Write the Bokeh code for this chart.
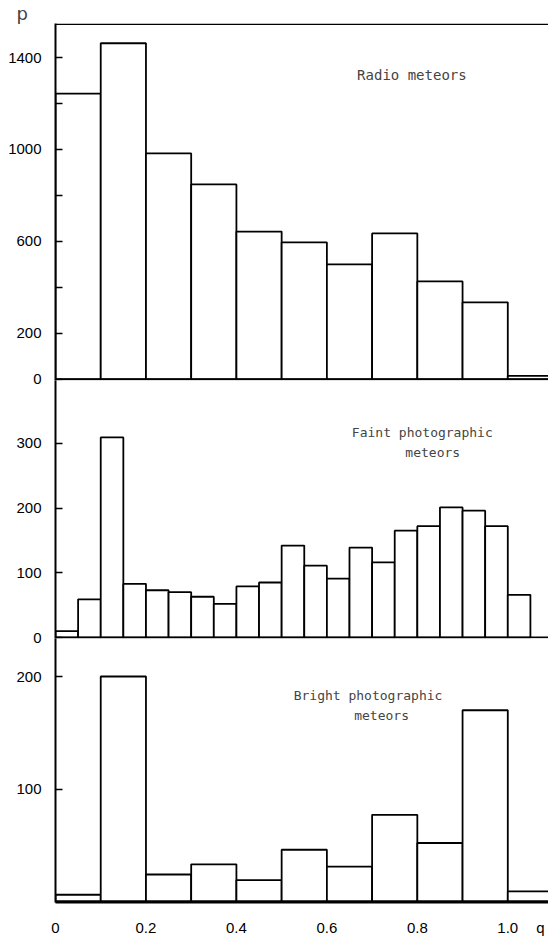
from bokeh.plotting import figure
from bokeh.layouts import column
from bokeh.models import Span, Label, FixedTicker
from bokeh.embed import file_html
from bokeh.resources import INLINE

# ---------------- data ----------------
radio_q = [0.0, 0.1, 0.2, 0.3, 0.4, 0.5, 0.6, 0.7, 0.8, 0.9, 1.0]
radio_n = [1243, 1462, 983, 848, 643, 596, 500, 635, 426, 335, 15]

faint_q = [0.00, 0.05, 0.10, 0.15, 0.20, 0.25, 0.30, 0.35, 0.40, 0.45, 0.50,
           0.55, 0.60, 0.65, 0.70, 0.75, 0.80, 0.85, 0.90, 0.95, 1.00]
faint_n = [10, 59, 309, 83, 73, 70, 63, 52, 79, 85, 142,
           111, 91, 139, 116, 165, 172, 201, 196, 172, 66]

bright_q = [0.0, 0.1, 0.2, 0.3, 0.4, 0.5, 0.6, 0.7, 0.8, 0.9, 1.0]
bright_n = [6, 200, 24, 33, 19, 46, 31, 77, 52, 170, 9]

x_ticks = [0, 0.2, 0.4, 0.6, 0.8, 1.0, 1.072]
x_tick_labels = ["0", "0.2", "0.4", "0.6", "0.8", "1.0", "q"]

radio_ticks = [0, 200, 400, 600, 800, 1000, 1200, 1400]
radio_tick_labels = {0: "0", 200: "200", 400: "", 600: "600", 800: "", 1000: "1000", 1200: "", 1400: "1400"}
faint_ticks = [0, 100, 200, 300]
faint_tick_labels = {0: "0", 100: "100", 200: "200", 300: "300"}
bright_ticks = [100, 200]
bright_tick_labels = {100: "100", 200: "200"}

# ---------------- styling ----------------
W = 548
LEFT = 55
X_END = 1.09
TICK_FONT = "Liberation Sans"
TEXT_FONT = "DejaVu Sans Mono"
OVER = 8  # overlap between stacked panels so that the "0" labels are not cut


def make_panel(height, y_range, border_top, border_bottom, ticks, tick_labels):
    p = figure(width=W, height=height, x_range=(0, X_END), y_range=y_range,
               output_backend="svg", toolbar_location=None,
               min_border_left=LEFT, min_border_right=0,
               min_border_top=border_top, min_border_bottom=border_bottom)
    p.outline_line_color = None
    p.background_fill_color = "white"
    p.border_fill_color = "white"
    p.grid.visible = False
    ax = p.yaxis[0]
    ax.ticker = FixedTicker(ticks=ticks)
    ax.major_label_overrides = tick_labels
    ax.minor_tick_line_color = None
    ax.major_tick_in = 7
    ax.major_tick_out = 0
    ax.major_tick_line_width = 1.5
    ax.axis_line_width = 2
    ax.major_label_standoff = 14
    ax.major_label_text_font = TICK_FONT
    ax.major_label_text_font_size = "15px"
    ax.major_label_text_color = "black"
    p.add_layout(Span(location=0, dimension="width", line_color="black", line_width=2))
    return p


def bars(p, q, n, w):
    p.quad(left=q, right=[v + w for v in q], bottom=0, top=n,
           fill_color="white", line_color="black", line_width=1.8)


# top: radio meteors
p1 = make_panel(380 + OVER, (-5, 1548), 23, OVER, radio_ticks, radio_tick_labels)
p1.xaxis.visible = False
p1.add_layout(Span(location=1545, dimension="width", line_color="black", line_width=1.5))
bars(p1, radio_q, radio_n, 0.1)
p1.add_layout(Label(x=0.788, y=1322, text="Radio meteors", text_align="center",
                    text_baseline="middle", text_font=TEXT_FONT, text_font_size="14px"))
p1.title.text = "p"
p1.title.align = "left"
p1.title.offset = -39
p1.title.standoff = 0
p1.title.text_font = "DejaVu Sans"
p1.title.text_font_style = "normal"
p1.title.text_font_size = "18px"
p1.title.text_line_height = 0.8

# middle: faint photographic meteors
p2 = make_panel(258 + OVER, (-1.5, 397), 0, OVER, faint_ticks, faint_tick_labels)
p2.xaxis.visible = False
p2.border_fill_alpha = 0
p2.margin = (-OVER, 0, 0, 0)
bars(p2, faint_q, faint_n, 0.05)
p2.add_layout(Label(x=0.811, y=317, text="Faint photographic", text_align="center",
                    text_baseline="middle", text_font=TEXT_FONT, text_font_size="13px"))
p2.add_layout(Label(x=0.834, y=286, text="meteors", text_align="center",
                    text_baseline="middle", text_font=TEXT_FONT, text_font_size="13px"))

# bottom: bright photographic meteors
p3 = make_panel(308, (-0.9, 233.8), 0, 44, bright_ticks, bright_tick_labels)
p3.border_fill_alpha = 0
p3.margin = (-OVER, 0, 0, 0)
bars(p3, bright_q, bright_n, 0.1)
xa = p3.xaxis[0]
xa.ticker = FixedTicker(ticks=x_ticks)
xa.major_label_overrides = {t: s for t, s in zip(x_ticks, x_tick_labels)}
xa.major_tick_in = 0
xa.major_tick_out = 0
xa.minor_tick_line_color = None
xa.axis_line_width = 2
xa.major_label_standoff = 16
xa.major_label_text_font = TICK_FONT
xa.major_label_text_font_size = "15px"
xa.major_label_text_color = "black"
p3.add_layout(Label(x=0.691, y=183, text="Bright photographic", text_align="center",
                    text_baseline="middle", text_font=TEXT_FONT, text_font_size="13px"))
p3.add_layout(Label(x=0.721, y=165, text="meteors", text_align="center",
                    text_baseline="middle", text_font=TEXT_FONT, text_font_size="13px"))

layout = column(p1, p2, p3, spacing=0)
open("out.html", "w").write(file_html(layout, INLINE))
